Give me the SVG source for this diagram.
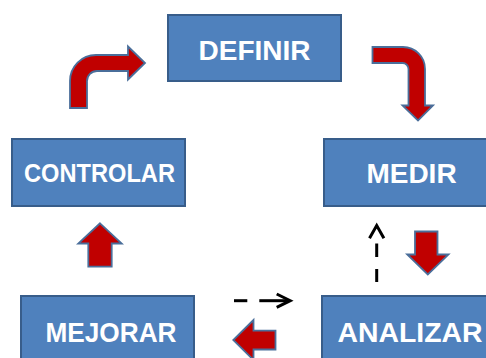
<svg xmlns="http://www.w3.org/2000/svg" width="486" height="358" viewBox="0 0 486 358">
<style>
.box{fill:#4F81BD;stroke:#385D8A;stroke-width:2}
.lbl{font-family:"Liberation Sans",Arial,sans-serif;font-weight:bold;font-size:28px;fill:#FFFFFF;text-anchor:middle}
.blk{fill:#C00000;stroke:#4A6E9A;stroke-width:1.8;stroke-linejoin:miter}
.dash{fill:none;stroke:#000000;stroke-width:3}
</style>
<rect width="486" height="358" fill="#FFFFFF"/>
<g id="definir">
<rect class="box" x="168" y="15" width="173" height="66"/>
<text class="lbl" x="254.5" y="60">DEFINIR</text>
</g>
<g id="medir">
<rect class="box" x="324" y="139" width="173" height="67"/>
<text class="lbl" x="411.5" y="183">MEDIR</text>
</g>
<g id="controlar">
<rect class="box" x="12" y="139" width="173" height="67"/>
<text class="lbl" x="99.5" y="181.5" style="font-size:25.5px" textLength="151" lengthAdjust="spacingAndGlyphs">CONTROLAR</text>
</g>
<g id="mejorar">
<rect class="box" x="21" y="296" width="173" height="70"/>
<text class="lbl" x="111" y="341.5" textLength="131" lengthAdjust="spacingAndGlyphs">MEJORAR</text>
</g>
<g id="analizar">
<rect class="box" x="322" y="296" width="173" height="70"/>
<text class="lbl" x="410" y="341.5" textLength="145" lengthAdjust="spacingAndGlyphs">ANALIZAR</text>
</g>
<g id="connectors">
<path class="blk" d="M70,108 V81 A26,26 0 0 1 96,55 H128 V46.5 L145,63 L128,79.5 V71 H97 A10,10 0 0 0 87,81 V108 Z"/>
<path class="blk" d="M372.5,47 H403 A22,22 0 0 1 425,69 V105.5 H433 L418,120.5 L402.5,105.5 H408.5 V69 A6,6 0 0 0 402.5,63 H372.5 Z"/>
<path class="blk" d="M415,231.5 H437.5 V254.5 H448.5 L427.8,274.5 L407.2,254.5 H415 Z"/>
<path class="blk" d="M253.5,320 V330.7 H275.5 V349.5 H253.5 V360 L233.3,340 Z"/>
<path class="blk" d="M100,223.3 L121.7,243.5 H111.7 V266.7 H88.3 V243.5 H78.3 Z"/>
<line class="dash" x1="234" y1="300.7" x2="247.3" y2="300.7"/>
<line class="dash" x1="259.3" y1="300.7" x2="289" y2="300.7"/>
<polyline class="dash" points="276.7,294 290.2,300.7 276.7,307.4"/>
<line class="dash" x1="376.7" y1="282" x2="376.7" y2="269"/>
<line class="dash" x1="376.7" y1="257" x2="376.7" y2="243.5"/>
<polyline class="dash" points="369.5,238.3 376.7,225.5 383.9,238.3"/>
</g>
</svg>
